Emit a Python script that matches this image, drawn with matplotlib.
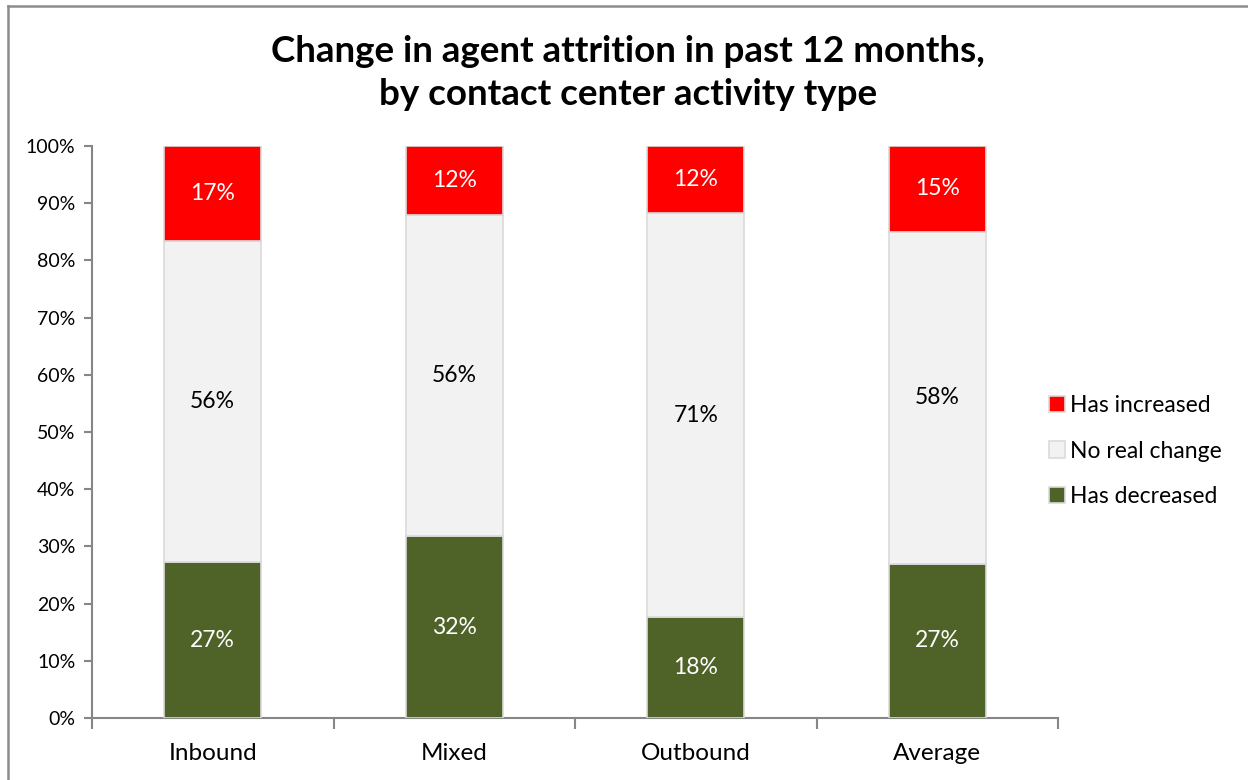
import numpy as np
import matplotlib
matplotlib.use('Agg')
import matplotlib.pyplot as plt
from matplotlib.lines import Line2D
from matplotlib.ticker import PercentFormatter, MultipleLocator

plt.rcParams['font.family'] = ['Lato', 'DejaVu Sans']

# datos
categorias = ['Inbound', 'Mixed', 'Outbound', 'Average']
disminuyo = [0.272, 0.318, 0.176, 0.270]
sin_cambio = [0.562, 0.562, 0.706, 0.580]
aumento = [0.166, 0.120, 0.118, 0.150]

series = [
    ('Has decreased', disminuyo, '#4F6228', 'white'),
    ('No real change', sin_cambio, '#F2F2F2', 'black'),
    ('Has increased', aumento, '#FF0000', 'white'),
]

fig = plt.figure(figsize=(12.48, 7.8), dpi=100)
ax = fig.add_axes([92 / 1248, 1 - 718 / 780, (1058 - 92) / 1248, (718 - 146) / 780])

x = np.arange(len(categorias))
base = np.zeros(len(categorias))
for nombre, vals, color, color_txt in series:
    vals = np.array(vals)
    ax.bar(x, vals, width=0.4, bottom=base, color=color, label=nombre,
           edgecolor='#DADADA', linewidth=1.2, zorder=3)
    for xi, b, v in zip(x, base, vals):
        ax.text(xi, b + v / 2, '{:.0%}'.format(v), ha='center', va='center',
                color=color_txt, fontsize=16.5, zorder=4)
    base = base + vals

ax.set_xlim(-0.5, len(categorias) - 0.5)
ax.set_ylim(0, 1.0)
ax.yaxis.set_major_locator(MultipleLocator(0.1))
ax.yaxis.set_major_formatter(PercentFormatter(1.0, decimals=0))
ax.set_xticks(x)
ax.set_xticklabels(categorias, fontsize=17.5)
ax.set_xticks(np.arange(-0.5, len(categorias)), minor=True)
ax.tick_params(axis='x', which='major', length=0, pad=18)
ax.tick_params(axis='x', which='minor', length=8, width=1.5, color='#868686', direction='out')
ax.tick_params(axis='y', length=6, width=1.5, color='#868686', labelsize=14, pad=6)

for lado in ['top', 'right']:
    ax.spines[lado].set_visible(False)
for lado in ['left', 'bottom']:
    ax.spines[lado].set_color('#868686')
    ax.spines[lado].set_linewidth(1.5)

# leyenda a la derecha, en orden inverso
h, l = ax.get_legend_handles_labels()
fig.legend(h[::-1], l[::-1], loc='center left', bbox_to_anchor=(1040 / 1248, 1 - 451 / 780),
           frameon=False, fontsize=16.5, handlelength=0.7, handleheight=0.7,
           handletextpad=0.2, labelspacing=1.05, borderaxespad=0)

fig.text(628 / 1248, 1 - 73 / 780, 'Change in agent attrition in past 12 months,\nby contact center activity type',
         ha='center', va='center', fontsize=26.5, fontweight='bold', linespacing=1.4)

# borde del área del gráfico
fig.add_artist(Line2D([8 / 1248, 1], [1 - 6 / 780, 1 - 6 / 780], color='#8C8C8C', linewidth=1.8))
fig.add_artist(Line2D([8 / 1248, 8 / 1248], [0, 1 - 6 / 780], color='#8C8C8C', linewidth=1.8))

fig.savefig('out.png', dpi=100)
